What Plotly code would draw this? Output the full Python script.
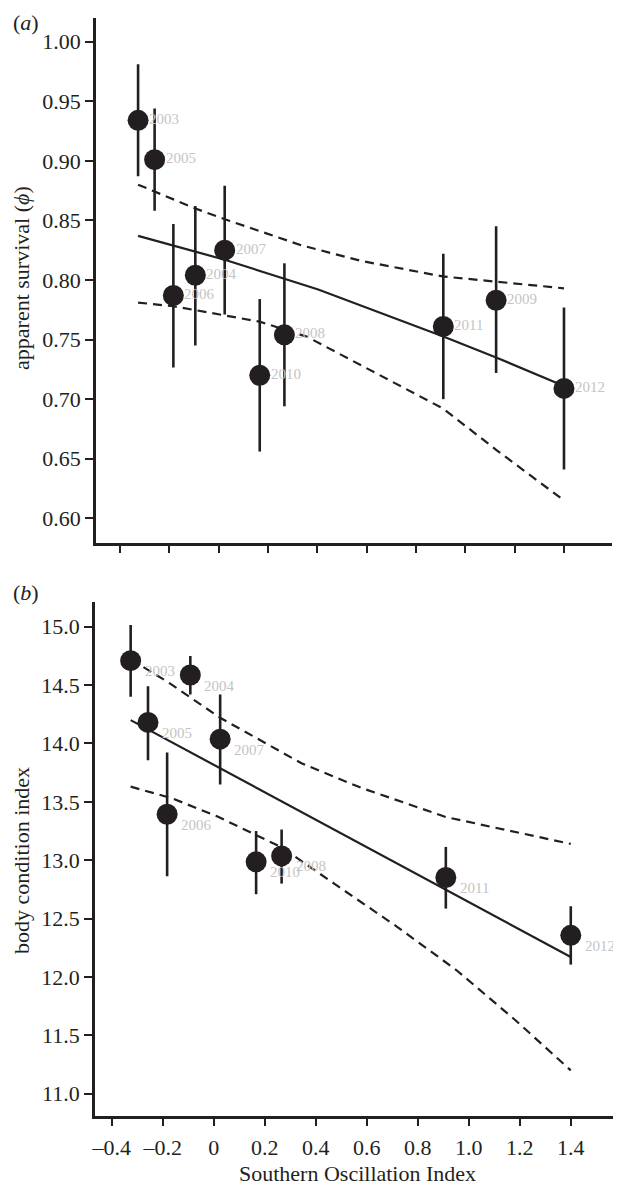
import plotly.graph_objects as go

# ---------- panel (a): apparent survival ----------
years_a = ["2003", "2005", "2006", "2004", "2007", "2010", "2008", "2011", "2009", "2012"]
soi_a = [-0.326, -0.259, -0.183, -0.094, 0.025, 0.167, 0.267, 0.911, 1.125, 1.40]
surv = [0.934, 0.901, 0.787, 0.804, 0.825, 0.720, 0.754, 0.761, 0.783, 0.709]
surv_hi = [0.981, 0.944, 0.847, 0.862, 0.879, 0.784, 0.814, 0.822, 0.845, 0.777]
surv_lo = [0.887, 0.858, 0.7265, 0.745, 0.771, 0.656, 0.694, 0.700, 0.722, 0.641]

fit_a_x = [-0.326, 0.025, 0.404, 0.911, 1.125, 1.40]
fit_a_y = [0.837, 0.817, 0.792, 0.7525, 0.735, 0.711]
up_a_x = [-0.326, -0.183, -0.094, 0.025, 0.337, 0.579, 0.908, 1.40]
up_a_y = [0.880, 0.868, 0.860, 0.851, 0.829, 0.816, 0.803, 0.793]
lo_a_x = [-0.326, -0.183, 0.005, 0.167, 0.357, 0.564, 0.911, 1.125, 1.40]
lo_a_y = [0.781, 0.778, 0.771, 0.765, 0.7525, 0.730, 0.692, 0.6575, 0.615]

# ---------- panel (b): body condition index ----------
years_b = ["2003", "2005", "2006", "2004", "2007", "2010", "2008", "2011", "2012"]
soi_b = [-0.326, -0.258, -0.183, -0.092, 0.025, 0.166, 0.266, 0.910, 1.40]
bci = [14.709, 14.18, 13.394, 14.586, 14.037, 12.986, 13.037, 12.852, 12.357]
bci_hi = [15.015, 14.49, 13.923, 14.75, 14.42, 13.25, 13.263, 13.114, 12.606]
bci_lo = [14.40, 13.857, 12.863, 14.42, 13.649, 12.709, 12.80, 12.586, 12.106]

fit_b_x = [-0.326, 1.40]
fit_b_y = [14.20, 12.172]
up_b_x = [-0.326, -0.183, 0.025, 0.344, 0.578, 0.910, 1.40]
up_b_y = [14.72, 14.53, 14.22, 13.83, 13.62, 13.37, 13.14]
lo_b_x = [-0.326, -0.163, 0.019, 0.266, 0.472, 0.719, 0.951, 1.183, 1.40]
lo_b_y = [13.63, 13.53, 13.37, 13.11, 12.80, 12.43, 12.06, 11.63, 11.20]

# ---------- axis labels ----------
xtick_vals = [-0.4, -0.2, 0, 0.2, 0.4, 0.6, 0.8, 1.0, 1.2, 1.4]
xtick_text = ["\u20130.4", "\u20130.2", "0", "0.2", "0.4", "0.6", "0.8", "1.0", "1.2", "1.4"]
ytick_a_vals = [0.60, 0.65, 0.70, 0.75, 0.80, 0.85, 0.90, 0.95, 1.00]
ytick_a_text = ["0.60", "0.65", "0.70", "0.75", "0.80", "0.85", "0.90", "0.95", "1.00"]
ytick_b_vals = [11.0, 11.5, 12.0, 12.5, 13.0, 13.5, 14.0, 14.5, 15.0]
ytick_b_text = ["11.0", "11.5", "12.0", "12.5", "13.0", "13.5", "14.0", "14.5", "15.0"]

INK = "#231f20"
LABEL_GREY = "#c4c4c4"
FONT = "Liberation Serif"
# the page body has an 8px margin, so the figure is a bit smaller than the window
OFF = 8
W, H = 621 - OFF, 1186 - OFF


def fx(px):
    return (px - OFF) / W


def fy(py):
    return 1 - (py - OFF) / H


fig = go.Figure()


def add_panel(xa, ya, fxv, fyv, ux, uy, lx, ly, px, py, phi, plo):
    for cx, cy, dash in ((ux, uy, "9px,6px"), (lx, ly, "9px,6px"), (fxv, fyv, "solid")):
        fig.add_trace(go.Scatter(x=cx, y=cy, mode="lines", xaxis=xa, yaxis=ya,
                                 line=dict(color=INK, width=2.2, dash=dash),
                                 showlegend=False, hoverinfo="skip"))
    fig.add_trace(go.Scatter(
        x=px, y=py, mode="markers", xaxis=xa, yaxis=ya, showlegend=False,
        marker=dict(size=21, color=INK, line=dict(width=0)),
        error_y=dict(type="data", symmetric=False,
                     array=[h - v for h, v in zip(phi, py)],
                     arrayminus=[v - l for l, v in zip(plo, py)],
                     width=0, thickness=2.6, color=INK)))


add_panel("x", "y", fit_a_x, fit_a_y, up_a_x, up_a_y, lo_a_x, lo_a_y, soi_a, surv, surv_hi, surv_lo)
add_panel("x2", "y2", fit_b_x, fit_b_y, up_b_x, up_b_y, lo_b_x, lo_b_y, soi_b, bci, bci_hi, bci_lo)

annotations = []
for yr, sx, sy in zip(years_a, soi_a, surv):
    annotations.append(dict(x=sx, y=sy, xref="x", yref="y", text=yr, showarrow=False,
                            xanchor="left", yanchor="middle", xshift=9, yshift=1.5,
                            font=dict(family=FONT, size=15, color=LABEL_GREY)))
for yr, sx, sy in zip(years_b, soi_b, bci):
    annotations.append(dict(x=sx, y=sy, xref="x2", yref="y2", text=yr, showarrow=False,
                            xanchor="left", yanchor="middle", xshift=12, yshift=-10.5,
                            font=dict(family=FONT, size=15, color=LABEL_GREY)))

# panel letters
annotations.append(dict(x=0, y=1.0, xref="paper", yref="paper", text="(<i>a</i>)",
                        showarrow=False, xanchor="left", yanchor="top",
                        font=dict(family=FONT, size=22, color=INK)))
annotations.append(dict(x=0, y=fy(592), xref="paper", yref="paper", text="(<i>b</i>)",
                        showarrow=False, xanchor="left", yanchor="middle",
                        font=dict(family=FONT, size=22, color=INK)))
# axis titles
annotations.append(dict(x=fx(18), y=fy(278), xref="paper", yref="paper",
                        text="apparent survival (<i>\u03d5</i>)", textangle=-90,
                        showarrow=False, xanchor="center", yanchor="middle",
                        font=dict(family=FONT, size=22, color=INK)))
annotations.append(dict(x=fx(18), y=fy(860), xref="paper", yref="paper",
                        text="body condition index", textangle=-90,
                        showarrow=False, xanchor="center", yanchor="middle",
                        font=dict(family=FONT, size=22, color=INK)))
annotations.append(dict(x=fx(356.7), y=fy(1173), xref="paper", yref="paper",
                        text="Southern Oscillation Index",
                        showarrow=False, xanchor="center", yanchor="middle",
                        font=dict(family=FONT, size=22, color=INK)))

axis_common = dict(showline=True, linecolor=INK, linewidth=2.5, ticks="outside",
                   ticklen=8, tickwidth=2, tickcolor=INK, showgrid=False, zeroline=False,
                   tickfont=dict(family=FONT, size=22, color=INK), mirror=False)

fig.update_layout(
    width=W, height=H, margin=dict(l=0, r=0, t=0, b=0),
    paper_bgcolor="white", plot_bgcolor="white",
    font=dict(family=FONT, color=INK),
    showlegend=False,
    xaxis=dict(domain=[fx(93.3), fx(612.3)], range=[-0.497, 1.596], anchor="y",
               tickvals=xtick_vals, showticklabels=False, **axis_common),
    yaxis=dict(domain=[fy(542.5), fy(18.3)], range=[0.5797, 1.0196], anchor="x",
               tickvals=ytick_a_vals, ticktext=ytick_a_text, ticklabelstandoff=0, **axis_common),
    xaxis2=dict(domain=[fx(92.3), 1.0], range=[-0.4663, 1.597], anchor="y2",
                tickvals=xtick_vals, ticktext=xtick_text, ticklabelstandoff=2, **axis_common),
    yaxis2=dict(domain=[fy(1115.5), fy(601.7)], range=[10.814, 15.214], anchor="x2",
                tickvals=ytick_b_vals, ticktext=ytick_b_text, ticklabelstandoff=0, **axis_common),
    annotations=annotations,
)

fig.write_html("out.html")
